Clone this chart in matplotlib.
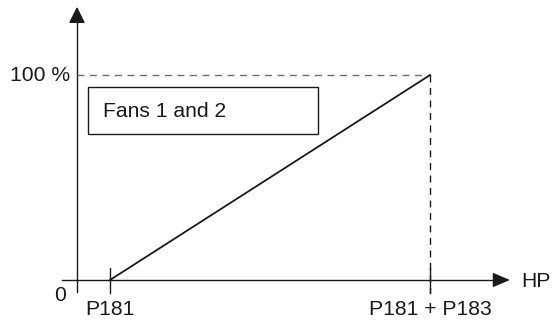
import matplotlib.pyplot as plt

plt.rcParams['font.family'] = ['Liberation Sans', 'DejaVu Sans']

# %% Data (HP in arbitrary units, output in percent)

p181 = 1.0
p183 = 9.7
hp = [p181, p181 + p183]
fan = [0, 100]
xlabels = ['P181', 'P181 + P183']

# %% Figure

fig = plt.figure(figsize=(5.52, 3.2), dpi=100)
ax = fig.add_axes([0, 0, 1, 1])
ax.set_xlim(-2.333, 14.394)
ax.set_ylim(-19.51, 136.59)
ax.axis('off')

ink = '#1a1a1a'
grey = '#707070'
fs = 15.2

# Axes with arrows
ax.plot([-0.45, 12.9], [0, 0], color=ink, lw=1.0)
ax.plot([0, 0], [-5.85, 128], color=ink, lw=1.0)
ax.annotate('', xy=(13.2, 0), xytext=(12.6, 0),
            arrowprops=dict(arrowstyle='-|>,head_length=1.05,head_width=0.45', color=ink, lw=1.0))
ax.annotate('', xy=(0, 134.6), xytext=(0, 125),
            arrowprops=dict(arrowstyle='-|>,head_length=1.0,head_width=0.5', color=ink, lw=1.0))

# Dashed guides
ax.plot([0, hp[1]], [fan[1], fan[1]], color=grey, lw=1.0, dashes=(5, 4))
ax.plot([hp[1], hp[1]], [fan[1], -6.3], color=ink, lw=1.0, dashes=(5, 4))

# Ticks
for x in hp:
    ax.plot([x, x], [6.0, -6.3], color=ink, lw=1.0)

# Curve
ax.plot(hp, fan, color=ink, lw=1.3)

# Labels
ax.text(-0.2, fan[1], '100 %', ha='right', va='center', fontsize=fs, color=ink)
ax.text(-0.5, -7.5, '0', ha='center', va='center', fontsize=fs, color=ink)
for x, s in zip(hp, xlabels):
    ax.text(x, -14.5, s, ha='center', va='center', fontsize=fs, color=ink)
ax.text(13.45, -0.5, 'HP', ha='left', va='center', fontsize=fs, color=ink)

# Box
ax.add_patch(plt.Rectangle((0.33, 71.2), 6.97, 22.9, fill=False, ec=ink, lw=1.0))
ax.text(0.8, 82.4, 'Fans 1 and 2', ha='left', va='center', fontsize=fs, color=ink)

fig.savefig('out.png', dpi=100)
